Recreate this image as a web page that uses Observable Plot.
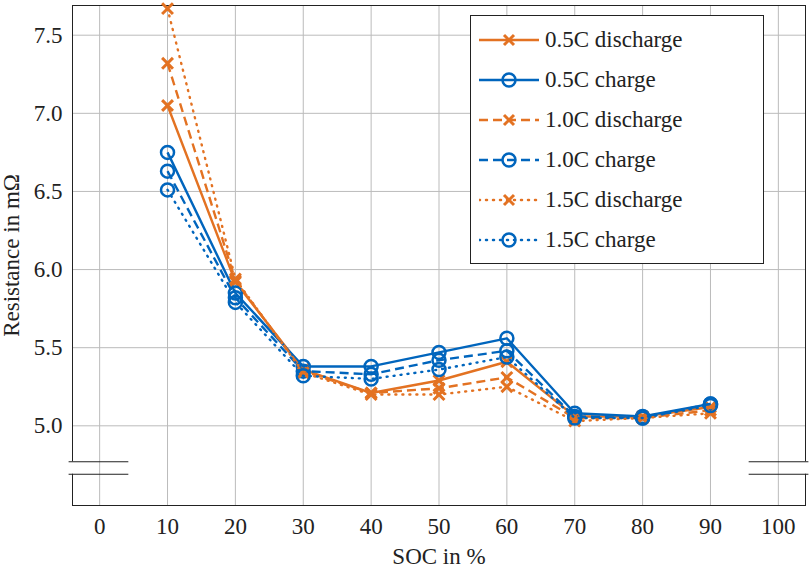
<!DOCTYPE html>
<html><head><meta charset="utf-8">
<script src="https://cdn.jsdelivr.net/npm/d3@7"></script>
<script src="https://cdn.jsdelivr.net/npm/@observablehq/plot@0.6"></script>
<style>
body{margin:0;background:#fff;font-family:"Liberation Serif",serif;}
#wrap{position:relative;width:809px;height:572px;}
#legend{position:absolute;left:470px;top:15px;width:294px;height:249px;border:1px solid #222;background:#fff;font-size:23px;box-sizing:border-box;padding-top:4px;color:#222}
#legend div{height:40px;display:flex;align-items:center}
#legend svg{margin:0 6px 0 8px}
</style></head><body><div id="wrap"><div id="legend"></div></div>
<script>
const soc=[10,20,30,40,50,60,70,80,90];
const dis05=[7.05,5.92,5.36,5.21,5.29,5.41,5.06,5.06,5.12];
const chg05=[6.75,5.85,5.38,5.38,5.47,5.56,5.08,5.06,5.14];
const dis10=[7.32,5.93,5.35,5.21,5.24,5.31,5.05,5.05,5.10];
const chg10=[6.63,5.82,5.35,5.33,5.42,5.48,5.06,5.05,5.14];
const dis15=[7.67,5.94,5.34,5.20,5.20,5.25,5.03,5.05,5.08];
const chg15=[6.51,5.79,5.32,5.30,5.36,5.44,5.05,5.05,5.13];
const xTicks=[0,10,20,30,40,50,60,70,80,90,100];
const yTicks=[5.0,5.5,6.0,6.5,7.0,7.5];
const ORANGE="#e37222", BLUE="#0065bd";
const series=[
 {name:"0.5C discharge",v:dis05,c:ORANGE,dash:null,sym:"times"},
 {name:"0.5C charge",v:chg05,c:BLUE,dash:null,sym:"circle"},
 {name:"1.0C discharge",v:dis10,c:ORANGE,dash:"9,5",sym:"times"},
 {name:"1.0C charge",v:chg10,c:BLUE,dash:"9,5",sym:"circle"},
 {name:"1.5C discharge",v:dis15,c:ORANGE,dash:"1,6",sym:"times"},
 {name:"1.5C charge",v:chg15,c:BLUE,dash:"1,6",sym:"circle"}
];
const marks=[
 Plot.gridX(xTicks,{stroke:"#bbb",strokeOpacity:1}),
 Plot.gridY(yTicks,{stroke:"#bbb",strokeOpacity:1}),
 Plot.frame({stroke:"#222"}),
 Plot.rectY([0],{x1:-4.5,x2:-3.5,y1:4.69,y2:4.77,fill:"white"}),
 Plot.rectY([0],{x1:103.5,x2:104.5,y1:4.69,y2:4.77,fill:"white"}),
 Plot.ruleY([4.69,4.77],{x1:-4.5,x2:4.3,stroke:"#222"}),
 Plot.ruleY([4.69,4.77],{x1:95.7,x2:104.5,stroke:"#222"})
];
for(const s of series){
 const d=soc.map((x,i)=>({x,y:s.v[i]}));
 marks.push(Plot.line(d,{x:"x",y:"y",stroke:s.c,strokeWidth:2.4,strokeDasharray:s.dash||undefined,strokeLinecap:s.dash==="1,6"?"round":"butt"}));
 marks.push(Plot.dot(d,{x:"x",y:"y",stroke:s.c,symbol:s.sym,r:s.sym==="circle"?6.5:5,strokeWidth:s.sym==="circle"?2.5:3,fill:s.sym==="circle"?"none":s.c}));
}
const chart=Plot.plot({
 width:809,height:572,marginLeft:72,marginTop:5,marginRight:4,marginBottom:67,
 style:{fontFamily:"Liberation Serif, serif",fontSize:"23px",color:"#222",overflow:"visible"},
 x:{domain:[-4,104],ticks:xTicks,tickSize:0,tickPadding:12,label:"SOC in %",labelAnchor:"center",labelOffset:58,labelArrow:"none"},
 y:{domain:[4.49,7.69],ticks:yTicks,tickFormat:d3.format(".1f"),tickSize:0,tickPadding:10,label:"Resistance in mΩ",labelAnchor:"center",labelOffset:70,labelArrow:"none"},
 marks
});
document.getElementById("wrap").prepend(chart);
const lg=document.getElementById("legend");
for(const s of series){
 const row=document.createElement("div");
 const mk=s.sym==="circle"?`<circle cx="30" cy="10" r="6.5" fill="none" stroke="${s.c}" stroke-width="2.5"/>`
  :`<path d="M25,5L35,15M35,5L25,15" stroke="${s.c}" stroke-width="3"/>`;
 row.innerHTML=`<svg width="60" height="20"><line x1="0" y1="10" x2="60" y2="10" stroke="${s.c}" stroke-width="2.5" ${s.dash?`stroke-dasharray="${s.dash}"`:""} ${s.dash==="1,6"?'stroke-linecap="round"':""}/>${mk}</svg><span>${s.name}</span>`;
 lg.appendChild(row);
}
</script></body></html>
